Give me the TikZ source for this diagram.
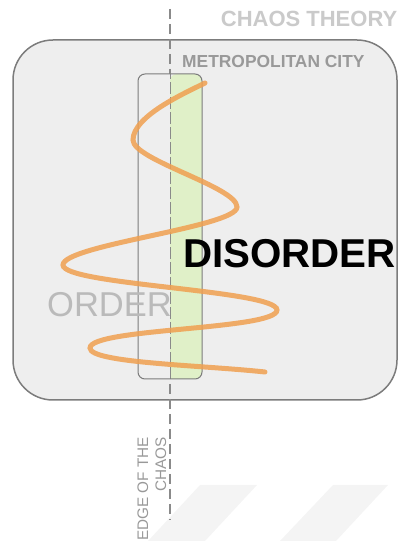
\documentclass[tikz,border=0pt]{standalone}
\usepackage{fontspec}
\setmainfont{Liberation Sans}
\definecolor{framegray}{HTML}{7C7C7C}
\definecolor{boxgray}{HTML}{EEEEEE}
\definecolor{dashgray}{HTML}{8A8A8A}
\definecolor{cityred}{HTML}{E0F0C8}
\definecolor{waveorange}{HTML}{F0A050}
\definecolor{shadegray}{HTML}{F4F4F4}
\begin{document}
\begin{tikzpicture}[x=1pt,y=1pt,
    cityframe/.style = {draw=framegray, line width=1.5pt, fill=boxgray, rounded corners=40pt},
    edgeline/.style = {draw=dashgray, line width=2.5pt, dash pattern=on 10pt off 5pt},
    wave/.style = {draw=waveorange, line width=5pt, opacity=0.85, line cap=round},
    caption/.style = {inner sep=0pt, anchor=base west}]
    \useasboundingbox (0,0) rectangle (398,541);
    % faint stripes at the bottom
    \fill[shadegray] (200,56) -- (257,56) -- (205,0) -- (148,0) -- cycle;
    \fill[shadegray] (333,56) -- (388,56) -- (336,0) -- (280,0) -- cycle;
    % the city
    \draw[cityframe] (13,141) rectangle (397,501);
    \coordinate (top) at (170,532);
    \coordinate (bottom) at (170,21);
    \draw[edgeline] (top) -- (bottom);
    % the edge band
    \fill[boxgray, rounded corners=7pt] (138,162) rectangle (202,467);
    \fill[cityred, rounded corners=7pt] (170,162) -| (202,467) -| (170,162);
    \draw[dashgray, line width=0.8pt, dash pattern=on 12pt off 3pt] (170,162) -- (170,467);
    \draw[framegray, line width=1pt, rounded corners=7pt] (138,162) rectangle (202,467);
    % texts
    \node[caption, anchor=base east, text=boxgray!85!black, font=\bfseries\fontsize{22}{26}\selectfont] (title) at (397.5,514) {CHAOS THEORY};
    \node[caption, text=black!40, font=\bfseries\fontsize{17.4}{20}\selectfont] (city) at (182,473) {METROPOLITAN CITY};
    \node[caption, text=black!27, font=\fontsize{34.5}{40}\selectfont] (order) at (47,224) {ORDER};
    \node[inner sep=0pt, rotate=90, anchor=south east, align=right, text=black!40, font=\fontsize{15.3}{18}\selectfont] (edge) at (166.5,104) {EDGE OF THE\\CHAOS};
    % the wave
    \draw[wave] (205,458) .. controls (185,448) and (133,425) .. (133,401)
        .. controls (133,381) and (237,354) .. (237,334)
        .. controls (237,314) and (63,296) .. (63,276)
        .. controls (63,256) and (277,251) .. (277,231)
        .. controls (277,211) and (90,213) .. (90,193)
        .. controls (90,178) and (200,176) .. (265,169);
    \node[caption, font=\bfseries\fontsize{40.3}{46}\selectfont] (disorder) at (183,273) {DISORDER};
\end{tikzpicture}
\end{document}
